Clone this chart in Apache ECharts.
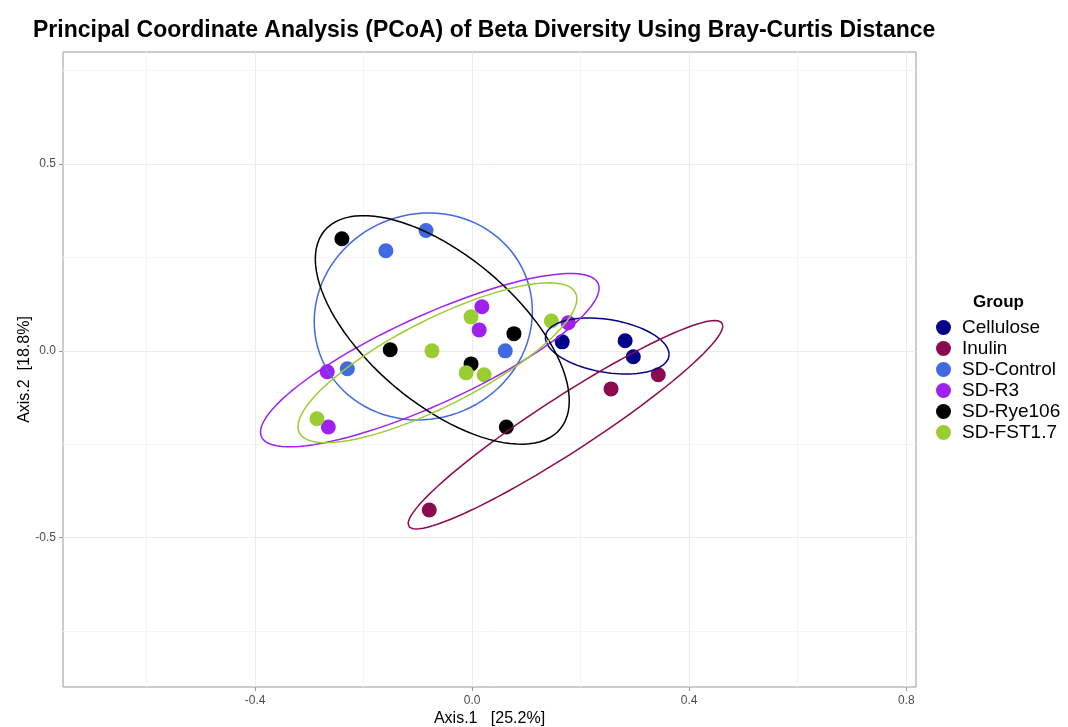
<!DOCTYPE html>
<html lang="en">
<head>
    <meta charset="UTF-8">
    <title>PCoA Bray-Curtis</title>
    <script type="text/javascript" src="https://cdn.jsdelivr.net/npm/echarts@6/dist/echarts.min.js"></script>
</head>
<body style="height: 727px; margin: 0; width: 1068px; background: #fff">
<div id="container" style="height: 727px; width: 1068px"></div>
<script type="text/javascript">
    // groups and colours
    var groups = ['Cellulose', 'Inulin', 'SD-Control', 'SD-R3', 'SD-Rye106', 'SD-FST1.7'];
    var colors = ['#00008B', '#8B0A50', '#4169E1', '#A020F0', '#000000', '#9ACD32'];

    // sample coordinates
    var celluloseX = [0.166, 0.282, 0.297];
    var celluloseY = [0.024, 0.027, -0.016];
    var inulinX = [0.256, 0.343, -0.079];
    var inulinY = [-0.102, -0.064, -0.426];
    var controlX = [-0.085, -0.159, -0.230, 0.061];
    var controlY = [0.322, 0.268, -0.048, 0.000];
    var r3X = [0.018, 0.013, -0.267, -0.265, 0.177];
    var r3Y = [0.118, 0.056, -0.056, -0.204, 0.075];
    var rye106X = [-0.240, -0.151, 0.077, -0.002, 0.063];
    var rye106Y = [0.300, 0.003, 0.046, -0.035, -0.204];
    var fstX = [-0.002, -0.074, -0.011, 0.022, -0.286, 0.146];
    var fstY = [0.091, 0.000, -0.059, -0.064, -0.182, 0.080];

    // ellipse shape per group: centre, half widths along x / y, correlation
    var ellipseCx = [0.249, 0.172, -0.090, -0.078, -0.055, -0.064];
    var ellipseCy = [0.013, -0.198, 0.092, -0.025, 0.056, -0.032];
    var ellipseRx = [0.114, 0.290, 0.201, 0.312, 0.234, 0.257];
    var ellipseRy = [0.075, 0.279, 0.277, 0.232, 0.306, 0.214];
    var ellipseRho = [-0.3, 0.95, 0.05, 0.83, -0.62, 0.80];

    // axis ticks
    var xTicks = [-0.4, 0.0, 0.4, 0.8];
    var xMinor = [-0.6, -0.2, 0.2, 0.6];
    var yTicks = [-0.5, 0.0, 0.5];
    var yMinor = [-0.75, -0.25, 0.25, 0.75];
    var xRange = [-0.754, 0.818];
    var yRange = [-0.90, 0.80];

    var xs = [celluloseX, inulinX, controlX, r3X, rye106X, fstX];
    var ys = [celluloseY, inulinY, controlY, r3Y, rye106Y, fstY];

    function ellipse(i) {
        var pts = [];
        var s = Math.sqrt(1 - ellipseRho[i] * ellipseRho[i]);
        for (var k = 0; k <= 100; k++) {
            var t = 2 * Math.PI * k / 100;
            pts.push([
                ellipseCx[i] + ellipseRx[i] * Math.cos(t),
                ellipseCy[i] + ellipseRy[i] * (ellipseRho[i] * Math.cos(t) + s * Math.sin(t))
            ]);
        }
        return pts;
    }

    var series = [];
    groups.forEach(function (g, i) {
        var d = [];
        for (var j = 0; j < xs[i].length; j++) d.push([xs[i][j], ys[i][j]]);
        series.push({
            name: g,
            type: 'scatter',
            data: d,
            symbolSize: 15,
            itemStyle: {color: colors[i], opacity: 1},
            z: 3
        });
    });
    groups.forEach(function (g, i) {
        series.push({
            name: g + ' ellipse',
            type: 'line',
            data: ellipse(i),
            showSymbol: false,
            symbol: 'none',
            lineStyle: {color: colors[i], width: 1.5},
            silent: true,
            z: 4
        });
    });

    var fmt = function (v) { return v.toFixed(1); };
    var labelFont = {color: '#4d4d4d', fontSize: 12, fontFamily: 'Liberation Sans'};

    var dom = document.getElementById("container");
    var myChart = echarts.init(dom);

    var option = {
        animation: false,
        backgroundColor: '#fff',
        title: [{
            text: 'Principal Coordinate Analysis (PCoA) of Beta Diversity Using Bray-Curtis Distance',
            left: 28,
            top: 14,
            textStyle: {fontFamily: 'Liberation Sans', fontWeight: 'bold', fontSize: 23, color: '#000'}
        }, {
            text: 'Group',
            left: 968,
            top: 289,
            textStyle: {fontFamily: 'Liberation Sans', fontWeight: 'bold', fontSize: 17, color: '#000'}
        }],
        legend: {
            data: groups,
            orient: 'vertical',
            left: 931,
            top: 313,
            padding: 5,
            icon: 'circle',
            itemWidth: 15,
            itemHeight: 15,
            itemGap: 2,
            textStyle: {fontFamily: 'Liberation Sans', fontSize: 19, color: '#000', padding: [0, 0, 0, 6]}
        },
        grid: {
            left: 63, right: 152, top: 52, bottom: 40,
            outerBoundsMode: 'none',
            show: true, borderColor: '#999', borderWidth: 1
        },
        xAxis: [{
            type: 'value',
            min: xRange[0], max: xRange[1],
            name: 'Axis.1   [25.2%]',
            nameLocation: 'middle',
            nameGap: 24,
            nameMoveOverlap: false,
            nameTextStyle: {fontFamily: 'Liberation Sans', fontSize: 16, color: '#000'},
            axisLine: {show: false, onZero: false},
            axisTick: {show: true, length: 4, customValues: xTicks, lineStyle: {color: '#999'}},
            axisLabel: Object.assign({customValues: xTicks, formatter: fmt, margin: 8}, labelFont),
            splitLine: {show: true, lineStyle: {color: '#ebebeb', width: 1}}
        }, {
            type: 'value',
            position: 'bottom',
            min: xRange[0], max: xRange[1],
            axisLine: {show: false, onZero: false},
            axisTick: {show: false, customValues: xMinor},
            axisLabel: {show: false, customValues: xMinor},
            splitLine: {show: true, lineStyle: {color: '#f4f4f4', width: 1}}
        }],
        yAxis: [{
            type: 'value',
            min: yRange[0], max: yRange[1],
            name: 'Axis.2  [18.8%]',
            nameLocation: 'middle',
            nameGap: 30,
            nameMoveOverlap: false,
            nameRotate: 90,
            nameTextStyle: {fontFamily: 'Liberation Sans', fontSize: 16, color: '#000'},
            axisLine: {show: false, onZero: false},
            axisTick: {show: true, length: 4, customValues: yTicks, lineStyle: {color: '#999'}},
            axisLabel: Object.assign({customValues: yTicks, formatter: fmt, margin: 7}, labelFont),
            splitLine: {show: true, lineStyle: {color: '#ebebeb', width: 1}}
        }, {
            type: 'value',
            position: 'left',
            min: yRange[0], max: yRange[1],
            axisLine: {show: false, onZero: false},
            axisTick: {show: false, customValues: yMinor},
            axisLabel: {show: false, customValues: yMinor},
            splitLine: {show: true, lineStyle: {color: '#f4f4f4', width: 1}}
        }],
        series: series
    };

    myChart.setOption(option, true);
</script>
</body>
</html>
